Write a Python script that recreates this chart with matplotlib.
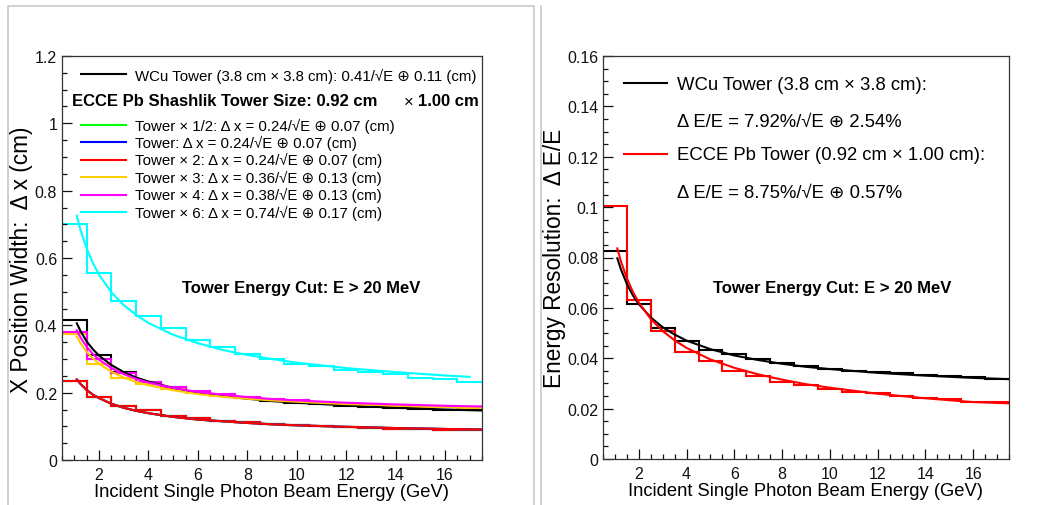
import numpy as np
import matplotlib.pyplot as plt
from matplotlib.lines import Line2D
from matplotlib.ticker import MultipleLocator, FuncFormatter

plt.rcParams["font.family"] = ["Liberation Sans", "DejaVu Sans"]

W, H = 1059, 506

# 1 GeV bins centred on 1..17 GeV
bin_edges = np.arange(0.5, 18.0, 1.0)

# ---- left panel: X position width (cm), histogram per bin ----
pos_wcu = [0.415, 0.312, 0.262, 0.233, 0.218, 0.202, 0.194, 0.183, 0.176,
           0.170, 0.166, 0.161, 0.157, 0.154, 0.152, 0.150, 0.148]
pos_x2 = [0.235, 0.188, 0.160, 0.148, 0.132, 0.124, 0.116, 0.112, 0.107,
          0.104, 0.101, 0.098, 0.096, 0.093, 0.091, 0.090, 0.089]
pos_half = list(pos_x2)
pos_x1 = list(pos_x2)
pos_x3 = [0.375, 0.286, 0.245, 0.226, 0.210, 0.198, 0.190, 0.183, 0.178,
          0.173, 0.168, 0.164, 0.161, 0.159, 0.157, 0.156, 0.155]
pos_x4 = [0.381, 0.300, 0.259, 0.233, 0.217, 0.204, 0.195, 0.188, 0.182,
          0.177, 0.172, 0.168, 0.165, 0.162, 0.160, 0.159, 0.157]
pos_x6 = [0.700, 0.556, 0.473, 0.428, 0.391, 0.356, 0.336, 0.316, 0.299,
          0.284, 0.279, 0.267, 0.260, 0.255, 0.245, 0.242, 0.233]

# fit curves
fit_e = [1.1, 1.25, 1.5, 1.75, 2, 2.5, 3, 3.5, 4, 5, 6, 7, 8, 9, 10, 12, 14, 16, 17.5]
fit_e_x6 = [1.1, 1.25, 1.5, 1.75, 2, 2.5, 3, 3.5, 4, 5, 6, 7, 8, 9, 10, 12, 14, 16, 17]
fit_wcu = [0.406, 0.383, 0.352, 0.329, 0.310, 0.282, 0.261, 0.245, 0.233, 0.214,
           0.200, 0.190, 0.182, 0.175, 0.170, 0.162, 0.155, 0.150, 0.147]
fit_x2 = [0.239, 0.226, 0.208, 0.194, 0.184, 0.167, 0.155, 0.146, 0.139, 0.128,
          0.120, 0.115, 0.110, 0.106, 0.103, 0.0985, 0.0949, 0.0922, 0.0905]
fit_half = list(fit_x2)
fit_x1 = list(fit_x2)
fit_x3 = [0.367, 0.347, 0.321, 0.302, 0.286, 0.262, 0.245, 0.232, 0.222, 0.207,
          0.196, 0.188, 0.182, 0.177, 0.173, 0.166, 0.162, 0.158, 0.156]
fit_x4 = [0.385, 0.364, 0.336, 0.315, 0.298, 0.273, 0.255, 0.241, 0.230, 0.214,
          0.202, 0.194, 0.187, 0.181, 0.177, 0.170, 0.165, 0.161, 0.159]
fit_x6 = [0.726, 0.683, 0.628, 0.585, 0.550, 0.498, 0.460, 0.431, 0.407, 0.372,
          0.347, 0.327, 0.312, 0.300, 0.289, 0.273, 0.261, 0.251, 0.247]

pos_labels = [
    "Tower × 1/2: Δ x = 0.24/√E ⊕ 0.07 (cm)",
    "Tower: Δ x = 0.24/√E ⊕ 0.07 (cm)",
    "Tower × 2: Δ x = 0.24/√E ⊕ 0.07 (cm)",
    "Tower × 3: Δ x = 0.36/√E ⊕ 0.13 (cm)",
    "Tower × 4: Δ x = 0.38/√E ⊕ 0.13 (cm)",
    "Tower × 6: Δ x = 0.74/√E ⊕ 0.17 (cm)",
]
pos_colors = ["#00ff00", "#0000ff", "#ff0000", "#ffcc00", "#ff00ff", "#00ffff"]

# ---- right panel: energy resolution ----
res_wcu = [0.0825, 0.0617, 0.0522, 0.0469, 0.0434, 0.0417, 0.0397, 0.0381, 0.0370,
           0.0357, 0.0350, 0.0344, 0.0340, 0.0333, 0.0328, 0.0324, 0.0317]
res_pb = [0.1005, 0.0631, 0.0507, 0.0423, 0.0390, 0.0350, 0.0328, 0.0307, 0.0294,
          0.0278, 0.0267, 0.0261, 0.0251, 0.0242, 0.0238, 0.0227, 0.0225]
res_fit_wcu = [0.0797, 0.0753, 0.0695, 0.0650, 0.0615, 0.0562, 0.0523, 0.0494, 0.0470,
               0.0436, 0.0411, 0.0393, 0.0378, 0.0366, 0.0357, 0.0342, 0.0331, 0.0322, 0.0317]
res_fit_pb = [0.0836, 0.0785, 0.0717, 0.0664, 0.0621, 0.0556, 0.0508, 0.0471, 0.0441,
              0.0395, 0.0362, 0.0336, 0.0315, 0.0297, 0.0283, 0.0259, 0.0241, 0.0226, 0.0221]


def px(x, y):
    return x / W, 1 - y / H


fig = plt.figure(figsize=(W / 100, H / 100), dpi=100)

# gray pad borders
fig.add_artist(Line2D([8 / W, 8 / W, 534 / W, 534 / W], [0, 1 - 7 / H, 1 - 7 / H, 0],
                      color="#c8c8c8", lw=1.2))
fig.add_artist(Line2D([541 / W, 541 / W], [0, 1 - 7 / H], color="#c8c8c8", lw=1.2))

ax1 = fig.add_axes([62 / W, 1 - 461 / H, 420 / W, 404 / H])
ax2 = fig.add_axes([603 / W, 1 - 460 / H, 406 / W, 403 / H])

lw = 1.5
ax1.stairs(pos_wcu, bin_edges, baseline=None, color="black", lw=lw)
ax1.plot(fit_e, fit_wcu, color="black", lw=lw)
for vals, fit, c in [(pos_half, fit_half, pos_colors[0]), (pos_x1, fit_x1, pos_colors[1]),
                     (pos_x2, fit_x2, pos_colors[2]), (pos_x3, fit_x3, pos_colors[3]),
                     (pos_x4, fit_x4, pos_colors[4])]:
    ax1.stairs(vals, bin_edges, baseline=None, color=c, lw=lw)
    ax1.plot(fit_e, fit, color=c, lw=lw)
ax1.stairs(pos_x6, bin_edges, baseline=None, color=pos_colors[5], lw=lw)
ax1.plot(fit_e_x6, fit_x6, color=pos_colors[5], lw=lw)

ax2.stairs(res_wcu, bin_edges, baseline=None, color="black", lw=lw)
ax2.plot(fit_e, res_fit_wcu, color="black", lw=lw)
ax2.stairs(res_pb, bin_edges, baseline=None, color="#ff0000", lw=lw)
ax2.plot(fit_e, res_fit_pb, color="#ff0000", lw=lw)

fmt = FuncFormatter(lambda v, p: "%g" % round(v, 4))
for ax, ymax, ymaj, ymin in [(ax1, 1.2, 0.2, 0.05), (ax2, 0.16, 0.02, 0.005)]:
    ax.set_xlim(0.5, 17.5)
    ax.set_ylim(0, ymax)
    ax.xaxis.set_major_locator(MultipleLocator(2))
    ax.xaxis.set_minor_locator(MultipleLocator(0.5))
    ax.yaxis.set_major_locator(MultipleLocator(ymaj))
    ax.yaxis.set_minor_locator(MultipleLocator(ymin))
    ax.yaxis.set_major_formatter(fmt)
    ax.tick_params(which="both", direction="in", top=False, right=False,
                   labelsize=11.5, colors="#111111", width=0.9)
    ax.tick_params(which="major", length=7)
    ax.tick_params(which="minor", length=3.5)
    ax.tick_params(axis="x", pad=5)
    for s in ax.spines.values():
        s.set_linewidth(0.9)
        s.set_color("#333333")

# axis titles
xlab = "Incident Single Photon Beam Energy (GeV)"
fig.text(*px(272, 493), xlab, ha="center", va="center", fontsize=13.2)
fig.text(*px(806, 492), xlab, ha="center", va="center", fontsize=13.2)
fig.text(*px(22, 260), "X Position Width:  Δ x (cm)", rotation=90,
         ha="center", va="center", fontsize=16.3)
fig.text(*px(555, 258), "Energy Resolution:  Δ E/E", rotation=90,
         ha="center", va="center", fontsize=16.3)

# left legend
fig.add_artist(Line2D([81 / W, 126 / W], [1 - 75 / H] * 2, color="black", lw=lw))
fig.text(*px(135, 76), "WCu Tower (3.8 cm × 3.8 cm): 0.41/√E ⊕ 0.11 (cm)",
         va="center", fontsize=10.8)
fig.text(*px(72, 102), "ECCE Pb Shashlik Tower Size: 0.92 cm", va="center",
         fontsize=12, fontweight="bold")
fig.text(*px(404, 102), "×", va="center", fontsize=12)
fig.text(*px(418, 102), "1.00 cm", va="center", fontsize=12, fontweight="bold")
row_y = [126, 143.3, 160.7, 178.3, 195.7, 213.3]
for y, lab, c in zip(row_y, pos_labels, pos_colors):
    fig.add_artist(Line2D([81 / W, 126 / W], [1 - y / H] * 2, color=c, lw=lw))
    fig.text(*px(135, y), lab, va="center", fontsize=10.8)

# right legend
fig.add_artist(Line2D([624 / W, 667 / W], [1 - 84.3 / H] * 2, color="black", lw=lw))
fig.add_artist(Line2D([624 / W, 667 / W], [1 - 155.3 / H] * 2, color="#ff0000", lw=lw))
fig.text(*px(677, 85), "WCu Tower (3.8 cm × 3.8 cm):", va="center", fontsize=13.3)
fig.text(*px(677, 122), "Δ E/E = 7.92%/√E ⊕ 2.54%", va="center", fontsize=13.3)
fig.text(*px(677, 156), "ECCE Pb Tower (0.92 cm × 1.00 cm):", va="center", fontsize=13.3)
fig.text(*px(677, 193), "Δ E/E = 8.75%/√E ⊕ 0.57%", va="center", fontsize=13.3)

cut = "Tower Energy Cut: E > 20 MeV"
fig.text(*px(182, 289), cut, va="center", fontsize=12, fontweight="bold")
fig.text(*px(713, 289), cut, va="center", fontsize=12, fontweight="bold")

fig.savefig("out.png", dpi=100)
